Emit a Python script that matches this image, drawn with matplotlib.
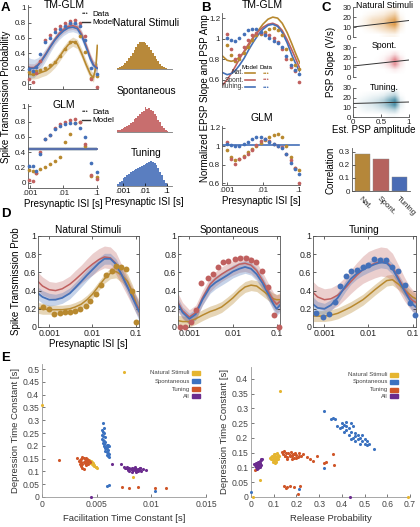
import numpy as np
import matplotlib
matplotlib.use("Agg")
import matplotlib.pyplot as plt

plt.rcParams['font.family'] = ['Liberation Sans', 'DejaVu Sans']

# ---------------- colours ----------------
c_nat = '#B8892F'
c_spo = '#C0605F'
c_tun = '#4470B8'

# ---------------- panel A data ----------------
A_isi = [0.0009, 0.0012, 0.0015, 0.002, 0.0028, 0.004, 0.0056, 0.0079, 0.011, 0.016, 0.022, 0.032, 0.045, 0.07, 0.1]
A_top_red = [0.06, 0.02, 0.14, 0.30, 0.57, 0.64, 0.71, 0.76, 0.80, 0.82, 0.83, 0.80, 0.63, 0.06, -0.05]
A_top_blue = [0.19, 0.17, 0.22, 0.39, 0.54, 0.60, 0.67, 0.71, 0.76, 0.79, 0.79, 0.75, 0.57, 0.20, 0.12]
A_top_nat = [0.15, 0.13, 0.16, 0.18, 0.20, 0.24, 0.29, 0.36, 0.45, 0.55, 0.54, 0.63, 0.42, 0.08, 0.10]
A_bot_red = [0.04, 0.02, 0.13, 0.40, 0.57, 0.62, 0.72, 0.77, 0.80, 0.82, 0.83, 0.80, 0.50, 0.10, 0.05]
A_bot_blue = [0.22, 0.22, 0.15, 0.38, 0.57, 0.62, 0.70, 0.74, 0.77, 0.78, 0.78, 0.71, 0.60, 0.26, 0.14]
A_bot_nat = [0.17, 0.15, 0.12, 0.18, 0.20, 0.24, 0.28, 0.33, 0.53, 0.64, 0.78, 0.79, 0.48, 0.09, 0.08]

AL_isi = [0.00087, 0.001, 0.0013, 0.0017, 0.0022, 0.003, 0.004, 0.0055, 0.0075, 0.01,
          0.014, 0.019, 0.026, 0.035, 0.048, 0.065, 0.08, 0.095, 0.105]
AL_blue = [0.21, 0.20, 0.20, 0.24, 0.30, 0.39, 0.48, 0.57, 0.64, 0.69, 0.73, 0.74, 0.72, 0.63, 0.48, 0.32, 0.24, 0.21, 0.20]
AL_blue_w = [0.14, 0.13, 0.12, 0.10, 0.09, 0.08, 0.07, 0.06, 0.06, 0.06, 0.06, 0.06, 0.06, 0.06, 0.06, 0.06, 0.06, 0.07, 0.07]
AL_red = [0.22, 0.21, 0.21, 0.25, 0.31, 0.40, 0.49, 0.58, 0.66, 0.71, 0.75, 0.76, 0.74, 0.65, 0.50, 0.34, 0.25, 0.22, 0.21]
AL_red_w = [0.05] * 19
AL_nat = [0.12, 0.12, 0.12, 0.13, 0.15, 0.17, 0.21, 0.27, 0.35, 0.43, 0.51, 0.55, 0.52, 0.40, 0.25, 0.12, 0.08, 0.22, 0.50]
AL_nat_w = [0.06] * 19
A_glm_level = [0.44, 0.44]
A_glm_span = [0.00087, 0.105]
A_glm_w = 0.025

# histograms of presynaptic ISI (relative counts, log bins)
H_nat = [0.04, 0.07, 0.11, 0.16, 0.22, 0.30, 0.39, 0.49, 0.60, 0.71, 0.81, 0.90, 0.97, 1.0, 0.99,
         0.95, 0.89, 0.81, 0.71, 0.60, 0.49, 0.38, 0.28, 0.19, 0.12, 0.06, 0.03, 0.01, 0.01, 0.0]
H_spo = [0.06, 0.09, 0.12, 0.16, 0.19, 0.25, 0.29, 0.36, 0.41, 0.51, 0.54, 0.63, 0.69, 0.80, 0.84,
         1.0, 0.89, 0.96, 0.86, 0.82, 0.70, 0.63, 0.48, 0.39, 0.24, 0.14, 0.06, 0.02, 0.01, 0.0]
H_tun = [0.10, 0.16, 0.21, 0.31, 0.37, 0.46, 0.51, 0.59, 0.61, 0.67, 0.69, 0.75, 0.77, 0.83, 0.85,
         0.91, 0.92, 0.97, 1.0, 0.96, 0.93, 0.84, 0.75, 0.59, 0.43, 0.24, 0.12, 0.05, 0.02, 0.0]

# ---------------- panel B data ----------------
B_isi = [0.001, 0.0013, 0.0017, 0.0022, 0.0029, 0.0038, 0.005, 0.0066, 0.0087,
         0.0115, 0.015, 0.02, 0.026, 0.034, 0.045, 0.06, 0.078, 0.1]
B_top_nat = [0.94, 0.84, 0.78, 0.80, 0.86, 0.92, 0.99, 1.04, 1.05, 1.07, 1.09, 1.10, 1.08, 1.04, 0.90, 0.80, 0.74, 0.71]
B_top_red = [1.05, 0.90, 0.80, 0.84, 0.92, 0.99, 1.04, 1.06, 1.06, 1.05, 1.04, 1.01, 0.97, 0.90, 0.80, 0.72, 0.69, 0.58]
B_top_blue = [1.01, 0.99, 0.98, 1.01, 1.05, 1.08, 1.09, 1.09, 1.07, 1.04, 1.01, 0.98, 0.96, 0.92, 0.83, 0.74, 0.70, 0.66]
B_bot_nat = [0.96, 0.88, 0.85, 0.86, 0.90, 0.94, 0.97, 1.00, 1.04, 1.07, 1.10, 1.12, 1.13, 1.10, 1.00, 0.88, 0.76, 0.74]
B_bot_red = [1.05, 0.86, 0.81, 0.86, 0.88, 0.92, 0.96, 1.01, 1.06, 1.08, 1.06, 1.03, 1.00, 0.99, 0.92, 0.85, 0.76, 0.60]
B_bot_blue = [1.03, 1.01, 1.00, 1.00, 1.02, 1.05, 1.08, 1.10, 1.10, 1.08, 1.05, 1.03, 1.00, 0.98, 0.92, 0.82, 0.75, 0.70]

BL_isi = [0.00075, 0.001, 0.0013, 0.0017, 0.0022, 0.003, 0.004, 0.0055, 0.0075, 0.01,
          0.014, 0.019, 0.026, 0.035, 0.048, 0.065, 0.08, 0.1, 0.11]
BL_nat = [0.83, 0.79, 0.78, 0.79, 0.82, 0.87, 0.93, 1.01, 1.08, 1.14, 1.19, 1.21, 1.20, 1.15, 1.06, 0.95, 0.87, 0.79, 0.76]
BL_red = [0.55, 0.60, 0.66, 0.73, 0.80, 0.88, 0.95, 1.02, 1.07, 1.11, 1.14, 1.15, 1.13, 1.08, 0.99, 0.89, 0.82, 0.74, 0.71]
BL_blue = [0.67, 0.65, 0.66, 0.69, 0.74, 0.81, 0.89, 0.97, 1.04, 1.09, 1.13, 1.14, 1.12, 1.06, 0.96, 0.84, 0.77, 0.70, 0.68]
B_glm_level = [1.01, 1.01]
B_glm_span = [0.00075, 0.1]

# ---------------- panel C data ----------------
C_bar_names = ['Nat.', 'Spont.', 'Tuning']
C_bar_vals = [0.285, 0.245, 0.105]
C_bar_cols = ['#B5873A', '#B5635E', '#4A6CB5']
C_titles = ['Natural Stimuli', 'Spont.', 'Tuning.']
C_cloud_cols = ['#D98A2B', '#D9606A', '#2A7A96']
C_fit_x = [0, 1]
C_fit_y = [[10, 16.5], [11, 17], [14, 15.5]]
# point density on a 10 (amplitude) x 6 (slope) grid, rows from low slope to high slope
C_dens_nat = [[0, 0, 0, 0, 0, 0.05, 0.1, 0.1, 0, 0],
              [0, 0, 0.05, 0.1, 0.2, 0.3, 0.4, 0.5, 0.1, 0],
              [0, 0.05, 0.15, 0.3, 0.4, 0.5, 0.8, 1.0, 0.2, 0],
              [0, 0.05, 0.15, 0.3, 0.35, 0.45, 0.7, 0.9, 0.15, 0],
              [0, 0, 0.05, 0.1, 0.15, 0.2, 0.35, 0.5, 0.05, 0],
              [0, 0, 0, 0, 0.02, 0.05, 0.1, 0.15, 0, 0]]
C_dens_spo = [[0, 0, 0, 0, 0, 0, 0, 0, 0, 0],
              [0, 0, 0, 0, 0, 0, 0.05, 0.15, 0.05, 0],
              [0, 0, 0, 0, 0.02, 0.1, 0.3, 0.8, 0.2, 0],
              [0, 0, 0, 0, 0.02, 0.1, 0.35, 0.9, 0.25, 0],
              [0, 0, 0, 0, 0, 0.03, 0.1, 0.3, 0.05, 0],
              [0, 0, 0, 0, 0, 0, 0, 0, 0, 0]]
C_dens_tun = [[0, 0, 0, 0, 0, 0, 0.05, 0.05, 0, 0],
              [0, 0.05, 0.1, 0.1, 0.15, 0.2, 0.3, 0.4, 0.05, 0],
              [0.02, 0.1, 0.15, 0.2, 0.3, 0.45, 0.7, 1.0, 0.15, 0],
              [0.02, 0.08, 0.12, 0.18, 0.25, 0.4, 0.7, 1.0, 0.15, 0],
              [0, 0.02, 0.05, 0.08, 0.1, 0.15, 0.3, 0.4, 0.03, 0],
              [0, 0, 0, 0, 0, 0.02, 0.05, 0.1, 0, 0]]

# ---------------- panel D data ----------------
DG = [0.00055, 0.0007, 0.001, 0.0014, 0.002, 0.003, 0.004, 0.0055, 0.0075, 0.01,
      0.014, 0.019, 0.026, 0.035, 0.048, 0.065, 0.085, 0.1, 0.12]
D_titles = ['Natural Stimuli', 'Spontaneous', 'Tuning']
D_nat_red = [0.50, 0.45, 0.41, 0.40, 0.42, 0.47, 0.52, 0.58, 0.64, 0.69, 0.74, 0.77, 0.76, 0.70, 0.57, 0.44, 0.33, 0.26, 0.20]
D_nat_red_w = [0.10, 0.10, 0.09, 0.09, 0.09, 0.09, 0.10, 0.10, 0.11, 0.12, 0.12, 0.12, 0.12, 0.12, 0.11, 0.10, 0.10, 0.10, 0.10]
D_nat_blue = [0.37, 0.33, 0.30, 0.30, 0.32, 0.37, 0.43, 0.50, 0.57, 0.63, 0.70, 0.75, 0.75, 0.69, 0.57, 0.44, 0.32, 0.25, 0.17]
D_nat_blue_w = [0.07, 0.07, 0.07, 0.06, 0.06, 0.06, 0.06, 0.06, 0.06, 0.06, 0.06, 0.06, 0.06, 0.06, 0.06, 0.07, 0.08, 0.09, 0.10]
D_nat_nat = [0.21, 0.20, 0.19, 0.19, 0.19, 0.20, 0.22, 0.25, 0.30, 0.36, 0.45, 0.53, 0.59, 0.61, 0.57, 0.50, 0.38, 0.28, 0.18]
D_nat_nat_w = [0.06, 0.06, 0.05, 0.05, 0.05, 0.05, 0.05, 0.05, 0.05, 0.05, 0.05, 0.05, 0.06, 0.07, 0.08, 0.08, 0.08, 0.08, 0.08]
D_spo_red = [0.27, 0.18, 0.11, 0.16, 0.32, 0.47, 0.53, 0.58, 0.62, 0.65, 0.69, 0.70, 0.68, 0.62, 0.51, 0.39, 0.29, 0.25, 0.28]
D_spo_red_w = [0.10, 0.09, 0.08, 0.08, 0.08, 0.08, 0.08, 0.08, 0.08, 0.08, 0.09, 0.09, 0.09, 0.09, 0.09, 0.09, 0.09, 0.10, 0.10]
D_spo_blue = [0.25, 0.16, 0.09, 0.14, 0.30, 0.44, 0.49, 0.53, 0.57, 0.61, 0.64, 0.66, 0.64, 0.58, 0.48, 0.36, 0.25, 0.20, 0.24]
D_spo_blue_w = [0.07, 0.06, 0.06, 0.06, 0.06, 0.07, 0.07, 0.07, 0.07, 0.07, 0.07, 0.07, 0.07, 0.07, 0.07, 0.07, 0.07, 0.07, 0.08]
D_spo_nat = [0.07, 0.06, 0.06, 0.09, 0.13, 0.17, 0.19, 0.22, 0.27, 0.32, 0.39, 0.44, 0.46, 0.45, 0.40, 0.35, 0.31, 0.30, 0.30]
D_spo_nat_w = [0.06] * 19
D_tun_red = [0.38, 0.33, 0.30, 0.31, 0.35, 0.43, 0.50, 0.57, 0.63, 0.67, 0.70, 0.72, 0.71, 0.66, 0.54, 0.42, 0.33, 0.29, 0.27]
D_tun_red_w = [0.12, 0.12, 0.12, 0.12, 0.12, 0.12, 0.13, 0.14, 0.15, 0.16, 0.16, 0.16, 0.16, 0.15, 0.14, 0.13, 0.12, 0.12, 0.12]
D_tun_blue = [0.25, 0.21, 0.20, 0.24, 0.32, 0.45, 0.53, 0.59, 0.63, 0.66, 0.69, 0.71, 0.70, 0.64, 0.52, 0.40, 0.30, 0.25, 0.22]
D_tun_blue_w = [0.08, 0.07, 0.06, 0.06, 0.06, 0.06, 0.06, 0.06, 0.06, 0.06, 0.06, 0.06, 0.06, 0.06, 0.06, 0.07, 0.07, 0.08, 0.08]
D_tun_nat = [0.12, 0.12, 0.12, 0.13, 0.15, 0.19, 0.22, 0.26, 0.30, 0.35, 0.41, 0.46, 0.51, 0.52, 0.47, 0.41, 0.36, 0.33, 0.31]
D_tun_nat_w = [0.06] * 19

D_nat_dot_isi = [0.00073, 0.001, 0.0013, 0.0018, 0.0023, 0.003, 0.004, 0.0052, 0.007, 0.009,
                 0.0122, 0.016, 0.021, 0.028, 0.035, 0.045, 0.06, 0.082, 0.105]
D_nat_dots = [0.22, 0.20, 0.14, 0.15, 0.16, 0.17, 0.18, 0.20, 0.23, 0.29, 0.36, 0.46, 0.57, 0.62, 0.67, 0.66, 0.64, 0.40, 0.06]
D_spo_dot_isi = [0.0006, 0.0008, 0.0011, 0.0014, 0.0019, 0.0027, 0.0035, 0.0045, 0.0059, 0.0079,
                 0.0109, 0.0147, 0.0203, 0.0265, 0.0345, 0.047, 0.064, 0.087, 0.115]
D_spo_dots = [0.0, 0.0, 0.06, 0.19, 0.48, 0.54, 0.58, 0.66, 0.71, 0.73, 0.75, 0.76, 0.76, 0.74, 0.71, 0.61, 0.44, 0.13, 0.0]
D_tun_dot_isi = [0.00064, 0.00092, 0.0013, 0.0017, 0.0022, 0.0031, 0.0041, 0.0056, 0.0077, 0.01,
                 0.0135, 0.0186, 0.0255, 0.0345, 0.047, 0.066, 0.088, 0.115]
D_tun_dots = [0.15, 0.11, 0.14, 0.27, 0.45, 0.56, 0.61, 0.63, 0.66, 0.68, 0.75, 0.74, 0.74, 0.66, 0.61, 0.46, 0.26, 0.13]

# ---------------- panel E data ----------------
E_names = ['Natural Stimuli', 'Spontaneous', 'Tuning', 'All']
E_cols = ['#E5B530', '#3B72C0', '#CF5628', '#6B2C8E']
# facilitation time constant vs depression time constant
E1_nat_x = [0.0, 0.0075, 0.0083, 0.0041, 0.0042, 0.0043, 0.0044, 0.0044, 0.0045, 0.0046, 0.0046, 0.0047,
            0.0047, 0.0048, 0.0048, 0.0049, 0.0049, 0.0050, 0.0043, 0.0045, 0.0046, 0.0047, 0.0042, 0.0044]
E1_nat_y = [0.358, 0.487, 0.080, 0.146, 0.143, 0.140, 0.142, 0.137, 0.135, 0.133, 0.130, 0.128,
            0.126, 0.124, 0.121, 0.119, 0.116, 0.114, 0.145, 0.139, 0.136, 0.132, 0.138, 0.134]
E1_spo_x = [0.0056, 0.0057, 0.0055, 0.0056, 0.0057, 0.0055, 0.0056, 0.0058, 0.0055, 0.0056, 0.0057,
            0.0058, 0.0056, 0.0057, 0.0059, 0.0057, 0.0058, 0.0059, 0.0058, 0.0059, 0.0060, 0.0058,
            0.0059, 0.0060, 0.0061, 0.0059, 0.0060, 0.0061, 0.0060, 0.0061, 0.0059, 0.0061, 0.0103]
E1_spo_y = [0.291, 0.270, 0.262, 0.255, 0.250, 0.243, 0.238, 0.235, 0.228, 0.222, 0.218,
            0.215, 0.212, 0.208, 0.205, 0.200, 0.197, 0.195, 0.190, 0.187, 0.185, 0.180,
            0.177, 0.172, 0.168, 0.165, 0.160, 0.155, 0.205, 0.200, 0.043, 0.048, 0.025]
E1_tun_x = [0.0016, 0.0032, 0.0034, 0.0035, 0.0036, 0.0037, 0.0038, 0.0039, 0.0040, 0.0041, 0.0042,
            0.0043, 0.0035, 0.0036, 0.0037, 0.0038, 0.0039, 0.0040, 0.0041, 0.0036, 0.0037, 0.0038,
            0.0040, 0.0042, 0.0044, 0.0073, 0.0080, 0.0088, 0.0103, 0.0113]
E1_tun_y = [0.145, 0.152, 0.140, 0.145, 0.150, 0.155, 0.152, 0.148, 0.154, 0.150, 0.145,
            0.140, 0.130, 0.135, 0.128, 0.138, 0.132, 0.140, 0.135, 0.120, 0.115, 0.110,
            0.125, 0.130, 0.135, 0.038, 0.035, 0.038, 0.035, 0.036]
E1_all_x = [0.0045, 0.0064, 0.0072, 0.0075, 0.0076, 0.0077, 0.0078, 0.0079, 0.0080, 0.0081, 0.0082,
            0.0083, 0.0084, 0.0085, 0.0086, 0.0087, 0.0088, 0.0089, 0.0090, 0.0091, 0.0092, 0.0095,
            0.0080, 0.0082, 0.0084, 0.0086, 0.0088, 0.0090, 0.0079, 0.0085]
E1_all_y = [0.0, 0.130, 0.128, 0.118, 0.115, 0.112, 0.118, 0.110, 0.114, 0.108, 0.112,
            0.106, 0.110, 0.104, 0.108, 0.102, 0.110, 0.105, 0.112, 0.100, 0.108, 0.106,
            0.100, 0.098, 0.115, 0.097, 0.100, 0.115, 0.105, 0.118]
# release probability vs depression time constant
E2_nat_x = [0.126, 0.038, 0.009, 0.69, 0.085, 0.09, 0.092, 0.095, 0.098, 0.10, 0.102, 0.104, 0.106, 0.108,
            0.11, 0.112, 0.115, 0.118, 0.12, 0.095, 0.10, 0.105, 0.11, 0.115, 0.12, 0.125, 0.09, 0.10, 0.108]
E2_nat_y = [0.358, 0.057, 0.0, 0.0, 0.132, 0.128, 0.138, 0.125, 0.135, 0.130, 0.140, 0.122, 0.145, 0.128,
            0.135, 0.118, 0.140, 0.130, 0.142, 0.118, 0.145, 0.115, 0.125, 0.148, 0.135, 0.140, 0.137, 0.124, 0.131]
E2_spo_x = [0.32, 0.35, 0.36, 0.37, 0.39, 0.40, 0.40, 0.41, 0.41, 0.42, 0.42, 0.43, 0.43, 0.44, 0.44, 0.45,
            0.45, 0.46, 0.46, 0.47, 0.47, 0.48, 0.48, 0.49, 0.49, 0.50, 0.50, 0.51, 0.51, 0.52, 0.54, 0.44,
            0.42, 0.38, 0.46, 0.32, 0.0, 0.21]
E2_spo_y = [0.29, 0.265, 0.268, 0.264, 0.232, 0.25, 0.238, 0.245, 0.22, 0.255, 0.228, 0.235, 0.21, 0.25,
            0.22, 0.24, 0.2, 0.215, 0.19, 0.21, 0.195, 0.2, 0.18, 0.21, 0.19, 0.195, 0.18, 0.19, 0.175, 0.18,
            0.163, 0.195, 0.24, 0.24, 0.205, 0.098, 0.018, 0.028]
E2_tun_x = [0.135, 0.14, 0.145, 0.15, 0.155, 0.16, 0.165, 0.17, 0.175, 0.18, 0.185, 0.19, 0.195, 0.2, 0.205,
            0.21, 0.22, 0.23, 0.245, 0.26, 0.275, 0.29, 0.15, 0.16, 0.17, 0.18, 0.19, 0.2, 0.21, 0.32, 0.33,
            0.36, 0.365, 0.145, 0.155, 0.16, 0.17, 0.19, 0.215, 0.205, 0.016]
E2_tun_y = [0.152, 0.145, 0.155, 0.14, 0.15, 0.135, 0.148, 0.14, 0.153, 0.138, 0.146, 0.132, 0.15, 0.142,
            0.135, 0.148, 0.14, 0.145, 0.137, 0.128, 0.122, 0.138, 0.138, 0.13, 0.142, 0.128, 0.145, 0.132,
            0.14, 0.116, 0.12, 0.145, 0.11, 0.036, 0.032, 0.033, 0.038, 0.034, 0.038, 0.01, 0.09]
E2_all_x = [0.435, 0.015, 0.018, 0.02, 0.022, 0.024, 0.026, 0.028, 0.03, 0.032, 0.034, 0.036, 0.038,
            0.04, 0.042, 0.045, 0.02, 0.025, 0.03, 0.035, 0.04, 0.028, 0.033, 0.038, 0.043, 0.047]
E2_all_y = [0.0, 0.112, 0.108, 0.115, 0.105, 0.11, 0.102, 0.108, 0.098, 0.112, 0.105, 0.118, 0.1,
            0.122, 0.11, 0.128, 0.1, 0.115, 0.12, 0.108, 0.115, 0.095, 0.102, 0.112, 0.124, 0.13]

# ---------------- figure ----------------
W, H = 420, 527
fig = plt.figure(figsize=(W / 100, H / 100), dpi=100)


def px_axes(x0, y0, x1, y1):
    return fig.add_axes([x0 / W, 1 - y1 / H, (x1 - x0) / W, (y1 - y0) / H])


def ftext(x, y, s, **kw):
    fig.text(x / W, 1 - y / H, s, **kw)


def matlab_style(ax, fs=5.8):
    ax.tick_params(direction='in', length=2, width=0.5, labelsize=fs, pad=1.2, colors='#222222')
    for sp in ax.spines.values():
        sp.set_linewidth(0.6)
        sp.set_color('#555555')


def log_ticks(ax, vals, labels):
    ax.set_xscale('log')
    ax.set_xticks(vals)
    ax.set_xticklabels(labels)
    ax.minorticks_off()


def band(ax, x, m, w, c, alpha=0.35, lw=1.2):
    m = np.array(m)
    w = np.array(w)
    ax.fill_between(x, m - w, m + w, color=c, alpha=alpha, lw=0)
    ax.plot(x, m, color=c, lw=lw)


# ---- A ----
axA1 = px_axes(28, 5, 98, 89)
axA2 = px_axes(28, 104, 98, 188)
for ax in (axA1, axA2):
    matlab_style(ax)
    ax.spines['top'].set_visible(False)
    ax.spines['right'].set_visible(False)
    ax.set_ylim(-0.07, 1.03)
    ax.set_yticks([0, 0.2, 0.4, 0.6, 0.8, 1])
    ax.set_yticklabels(['0', '0.2', '0.4', '0.6', '0.8', '1'])
    log_ticks(ax, [0.001, 0.01, 0.1], ['.001', '.01', '.1'])
    ax.set_xlim(0.00085, 0.11)
axA1.set_xticklabels([])
band(axA1, AL_isi, AL_nat, AL_nat_w, c_nat, 0.3)
band(axA1, AL_isi, AL_red, AL_red_w, c_spo, 0.25)
band(axA1, AL_isi, AL_blue, AL_blue_w, c_tun, 0.25)
for vals, c in ((A_top_nat, c_nat), (A_top_red, c_spo), (A_top_blue, c_tun)):
    axA1.scatter(A_isi, vals, s=7, color=c, lw=0, zorder=3, clip_on=False)
axA2.fill_between(A_glm_span, np.array(A_glm_level) - A_glm_w, np.array(A_glm_level) + A_glm_w,
                  color='#8899AA', alpha=0.45, lw=0)
axA2.plot(A_glm_span, A_glm_level, color=c_spo, lw=1.2)
axA2.plot(A_glm_span, A_glm_level, color=c_tun, lw=1.2)
for vals, c in ((A_bot_nat, c_nat), (A_bot_red, c_spo), (A_bot_blue, c_tun)):
    axA2.scatter(A_isi, vals, s=7, color=c, lw=0, zorder=3, clip_on=False)
ftext(64, 5, 'TM-GLM', fontsize=7.5, ha='center', va='center')
ftext(64, 105, 'GLM', fontsize=7.5, ha='center', va='center')
axA2.set_xlabel('Presynaptic ISI [s]', fontsize=7, labelpad=2)
ftext(6, 97, 'Spike Transmission Probability', fontsize=7, rotation=90, ha='center', va='center')
for yy in (14, 112):
    ftext(82, yy, '•••', fontsize=4.5, va='center', color='#333333')
    ftext(92, yy, 'Data', fontsize=5.8, va='center')
    fig.add_artist(plt.Line2D([82 / W, 90 / W], [1 - (yy + 8) / H] * 2, color='#333333', lw=1))
    ftext(92, yy + 8, 'Model', fontsize=5.8, va='center')

# histograms
hist_edges = np.logspace(-3.3, -0.75, len(H_nat) + 1)
hist_specs = [(H_nat, '#B8893A', 'Natural Stimuli', 41, 69, 23),
              (H_spo, '#C86E6E', 'Spontaneous', 106, 132, 91),
              (H_tun, '#5A7EC0', 'Tuning', 161, 186, 153)]
for k, (h, c, t, ytop, ybase, yt) in enumerate(hist_specs):
    ax = px_axes(117, ytop, 172, ybase)
    ax.stairs(h, hist_edges, fill=True, color=c, lw=0)
    ax.set_xscale('log')
    ax.set_xlim(hist_edges[0], hist_edges[-1])
    ax.set_ylim(0, 1.02)
    for sp in ('top', 'right', 'left'):
        ax.spines[sp].set_visible(False)
    ax.spines['bottom'].set_linewidth(0.6)
    ax.spines['bottom'].set_color('#777777')
    ax.set_yticks([])
    ax.minorticks_off()
    if k < 2:
        ax.set_xticks([])
    else:
        ax.set_xticks([0.001, 0.01, 0.1])
        ax.set_xticklabels(['.001', '.01', '.1'])
        ax.tick_params(direction='in', length=2, width=0.5, labelsize=5.8, pad=1.2)
        ax.set_xlabel('Presynaptic ISI [s]', fontsize=7, labelpad=2)
    ftext(146, yt, t, fontsize=7.3, ha='center', va='center')

# ---- B ----
axB1 = px_axes(222, 13, 300, 87)
axB2 = px_axes(222, 126, 300, 185)
for ax in (axB1, axB2):
    matlab_style(ax)
    ax.spines['top'].set_visible(False)
    ax.spines['right'].set_visible(False)
    log_ticks(ax, [0.001, 0.01, 0.1], ['.001', '.01', '.1'])
    ax.set_xlim(0.00072, 0.11)
    ax.set_yticks([0.6, 0.8, 1.0, 1.2])
    ax.set_yticklabels(['0.6', '0.8', '1', '1.2'])
axB1.set_ylim(0.53, 1.25)
axB2.set_ylim(0.58, 1.22)
axB1.set_xticklabels([])
axB1.spines['bottom'].set_visible(False)
axB1.tick_params(axis='x', length=0)
for vals, c in ((BL_nat, c_nat), (BL_red, c_spo), (BL_blue, c_tun)):
    axB1.plot(BL_isi, vals, color=c, lw=1.2)
for vals, c in ((B_top_nat, c_nat), (B_top_red, c_spo), (B_top_blue, c_tun)):
    axB1.scatter(B_isi, vals, s=7, color=c, lw=0, zorder=3, clip_on=False)
axB2.plot(B_glm_span, B_glm_level, color=c_tun, lw=1.2)
for vals, c in ((B_bot_nat, c_nat), (B_bot_red, c_spo), (B_bot_blue, c_tun)):
    axB2.scatter(B_isi, vals, s=7, color=c, lw=0, zorder=3, clip_on=False)
ftext(262, 5, 'TM-GLM', fontsize=7.5, ha='center', va='center')
ftext(262, 118, 'GLM', fontsize=7.5, ha='center', va='center')
axB2.set_xlabel('Presynaptic ISI [s]', fontsize=7, labelpad=2)
ftext(205, 98, 'Normalized EPSP Slope and PSP Amp', fontsize=7, rotation=90, ha='center', va='center')
# B legend
ftext(250, 67, 'Model', fontsize=4.4, ha='center', va='center')
ftext(266, 67, 'Data', fontsize=4.4, ha='center', va='center')
for yy, name, c in ((73, 'Nat.', c_nat), (80, 'Spont.', c_spo), (87, 'Tuning.', c_tun)):
    ftext(244, yy, name, fontsize=4.8, ha='right', va='center', color='#333333')
    fig.add_artist(plt.Line2D([245 / W, 255 / W], [1 - yy / H] * 2, color=c, lw=1.2))
    ftext(266, yy, '•••', fontsize=4.5, ha='center', va='center', color=c)

# ---- C ----
c_rows = [(7, 37), (47, 77), (88, 117)]
dens_list = [C_dens_nat, C_dens_spo, C_dens_tun]
for k, (y0, y1) in enumerate(c_rows):
    ax = px_axes(353, y0, 409, y1)
    matlab_style(ax, 5.8)
    ax.spines['top'].set_visible(False)
    ax.spines['right'].set_visible(False)
    d = np.array(dens_list[k], dtype=float)
    rgb = matplotlib.colors.to_rgb(C_cloud_cols[k])
    img = np.zeros(d.shape + (4,))
    img[..., :3] = rgb
    img[..., 3] = np.clip(d, 0, 1) * 0.85
    ax.imshow(img, origin='lower', extent=[0, 1, 0, 30], aspect='auto', interpolation='bilinear')
    ax.plot(C_fit_x, C_fit_y[k], color='#333333', lw=0.7)
    ax.set_xlim(0, 1)
    ax.set_ylim(0, 30)
    ax.set_yticks([0, 10, 20, 30])
    ax.set_yticklabels(['0', '10', '20', '30'])
    ax.set_xticks([0, 0.5, 1])
    if k < 2:
        ax.set_xticklabels([])
        ax.spines['bottom'].set_visible(False)
        ax.tick_params(axis='x', length=0)
    else:
        ax.set_xticklabels(['0', '0.5', '1'])
    ftext(384, y0 - 1, C_titles[k], fontsize=6.3, ha='center', va='center')
ftext(374, 130, 'Est. PSP amplitude', fontsize=7, ha='center', va='center')
ftext(331, 62, 'PSP Slope (V/s)', fontsize=7, rotation=90, ha='center', va='center')

axC = px_axes(352, 148, 410, 191)
matlab_style(axC, 5.8)
axC.spines['top'].set_visible(False)
axC.spines['right'].set_visible(False)
axC.bar(range(3), C_bar_vals, color=C_bar_cols, width=0.82, edgecolor='#888888', linewidth=0.3)
axC.set_xlim(-0.55, 2.55)
axC.set_ylim(0, 0.33)
axC.set_yticks([0, 0.1, 0.2, 0.3])
axC.set_yticklabels(['0', '0.1', '0.2', '0.3'])
axC.set_xticks(range(3))
axC.set_xticklabels(C_bar_names, rotation=-45, ha='left', va='top', rotation_mode='anchor', fontsize=5.8)
axC.tick_params(axis='x', length=0, pad=3)
ftext(331, 170, 'Correlation', fontsize=7, rotation=90, ha='center', va='center')

# ---- D ----
d_pos = [(38, 139), (178, 280), (313, 416)]
d_curves = [
    (D_nat_nat, D_nat_nat_w, D_nat_red, D_nat_red_w, D_nat_blue, D_nat_blue_w, D_nat_dot_isi, D_nat_dots, c_nat),
    (D_spo_nat, D_spo_nat_w, D_spo_red, D_spo_red_w, D_spo_blue, D_spo_blue_w, D_spo_dot_isi, D_spo_dots, c_spo),
    (D_tun_nat, D_tun_nat_w, D_tun_red, D_tun_red_w, D_tun_blue, D_tun_blue_w, D_tun_dot_isi, D_tun_dots, c_tun),
]
for k, (x0, x1) in enumerate(d_pos):
    ax = px_axes(x0, 236, x1, 327)
    matlab_style(ax, 6.3)
    nm, nw, rm, rw, bm, bw, dx, dy, dc = d_curves[k]
    band(ax, DG, nm, nw, c_nat, 0.35, 1.1)
    band(ax, DG, rm, rw, c_spo, 0.3, 1.1)
    band(ax, DG, bm, bw, c_tun, 0.3, 1.3)
    ax.scatter(dx, dy, s=18, color=dc, lw=0, zorder=4, clip_on=False)
    log_ticks(ax, [0.001, 0.01, 0.1], ['0.001', '0.01', '0.1'])
    ax.set_xlim(0.00055, 0.12)
    ax.set_ylim(0, 1)
    ax.set_yticks([0, 0.2, 0.4, 0.6, 0.8, 1])
    ax.set_yticklabels(['0', '0.2', '0.4', '0.6', '0.8', '1'])
    ax.tick_params(top=True, right=True)
    ax.set_title(D_titles[k], fontsize=7.3, pad=2)
    if k == 0:
        ax.set_ylabel('Spike Transmission Prob', fontsize=7, labelpad=2)
        ax.set_xlabel('Presynaptic ISI [s]', fontsize=7, labelpad=1)

# ---- E ----
def math_style(ax):
    ax.spines['top'].set_visible(False)
    ax.spines['right'].set_visible(False)
    for sp in ('left', 'bottom'):
        ax.spines[sp].set_linewidth(0.6)
        ax.spines[sp].set_color('#999999')
    ax.tick_params(direction='in', length=2, width=0.5, labelsize=6.2, pad=2, colors='#444444')


axE1 = px_axes(42, 364, 206, 497)
math_style(axE1)
e1 = [(E1_nat_x, E1_nat_y), (E1_spo_x, E1_spo_y), (E1_tun_x, E1_tun_y), (E1_all_x, E1_all_y)]
for (xx, yy), c in zip(e1, E_cols):
    axE1.scatter(xx, yy, s=5, color=c, lw=0, clip_on=False, zorder=3)
axE1.set_xlim(0, 0.015)
axE1.set_ylim(0, 0.52)
axE1.set_xticks([0, 0.005, 0.01, 0.015])
axE1.set_xticklabels(['0', '0.005', '0.01', '0.015'])
axE1.set_yticks([0, 0.05, 0.1, 0.15, 0.2, 0.25, 0.3, 0.35, 0.4, 0.45, 0.5])
axE1.set_yticklabels(['0', '0.05', '0.1', '0.15', '0.2', '0.25', '0.3', '0.35', '0.4', '0.45', '0.5'])
axE1.set_xlabel('Facilitation Time Constant [s]', fontsize=6.8, labelpad=4, color='#333333')
axE1.set_ylabel('Depression Time Constant [s]', fontsize=6.8, labelpad=2, color='#333333')

axE2 = px_axes(251, 367, 410, 497)
math_style(axE2)
e2 = [(E2_nat_x, E2_nat_y), (E2_spo_x, E2_spo_y), (E2_tun_x, E2_tun_y), (E2_all_x, E2_all_y)]
for (xx, yy), c in zip(e2, E_cols):
    axE2.scatter(xx, yy, s=5, color=c, lw=0, clip_on=False, zorder=3)
axE2.set_xlim(0, 0.7)
axE2.set_ylim(0, 0.44)
axE2.set_xticks([0, 0.1, 0.2, 0.3, 0.4, 0.5, 0.6, 0.7])
axE2.set_xticklabels(['0', '0.1', '0.2', '0.3', '0.4', '0.5', '0.6', '0.7'])
axE2.set_yticks([0, 0.05, 0.1, 0.15, 0.2, 0.25, 0.3, 0.35, 0.4])
axE2.set_yticklabels(['0', '0.05', '0.1', '0.15', '0.2', '0.25', '0.3', '0.35', '0.4'])
axE2.set_xlabel('Release Probability', fontsize=6.8, labelpad=4, color='#333333')
axE2.set_ylabel('Depression Time Constant [s]', fontsize=6.8, labelpad=2, color='#333333')

for xr, ys in ((190, (373, 381, 389, 396)), (388, (375, 382, 390, 396))):
    for name, c, yy in zip(E_names, E_cols, ys):
        ftext(xr, yy, name, fontsize=4.3, ha='right', va='center', color='#444444')
        fig.add_artist(matplotlib.patches.Rectangle(((xr + 2) / W, 1 - (yy + 2) / H), 8 / W, 4 / H,
                                                    color=c, transform=fig.transFigure))

# panel letters
for (x, y, s) in ((1, 8, 'A'), (201, 8, 'B'), (321, 8, 'C'), (1, 214, 'D'), (1, 358, 'E')):
    ftext(x, y, s, fontsize=9.5, fontweight='bold', va='center')

fig.savefig('out.png', dpi=100)
